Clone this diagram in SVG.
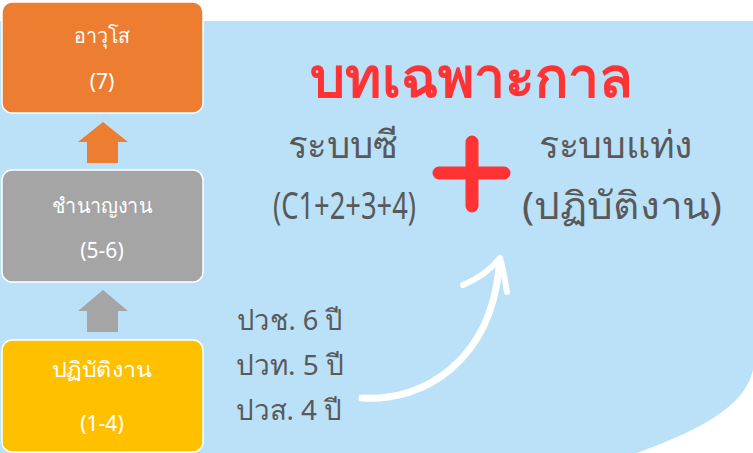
<svg xmlns="http://www.w3.org/2000/svg" width="753" height="453" viewBox="0 0 753 453">
<style>
.box{stroke:#ffffff;stroke-width:1.5}
.bt{font-family:"Noto Sans","DejaVu Sans",sans-serif;font-size:21px;fill:#ffffff;text-anchor:middle}
.gt{font-family:"Noto Sans","DejaVu Sans",sans-serif;fill:#595959}
</style>
<rect width="753" height="453" fill="#ffffff"/>
<path d="M0,21 H753 V370 C745,405 705,428 637,453 H0 Z" fill="#BBE1F8"/>
<g id="node-senior">
<rect class="box" x="2" y="2" width="201" height="111" rx="10" fill="#ED7D31"/>
<text class="bt" x="102" y="43" textLength="57" lengthAdjust="spacingAndGlyphs">อาวุโส</text>
<text class="bt" x="102" y="89">(7)</text>
</g>
<g id="node-expert">
<rect class="box" x="2" y="170" width="201" height="112" rx="10" fill="#A5A5A5"/>
<text class="bt" x="102" y="213" textLength="100" lengthAdjust="spacingAndGlyphs">ชำนาญงาน</text>
<text class="bt" x="102" y="258">(5-6)</text>
</g>
<g id="node-operator">
<rect class="box" x="2" y="340" width="201" height="112" rx="10" fill="#FFC000"/>
<text class="bt" x="102" y="377" textLength="100" lengthAdjust="spacingAndGlyphs">ปฏิบัติงาน</text>
<text class="bt" x="102" y="431">(1-4)</text>
</g>
<g id="connectors">
<path d="M103,122 L128,142 H118 V163 H87 V142 H78 Z" fill="#ED7D31"/>
<path d="M103,290 L128,311 H118 V332 H87 V311 H78 Z" fill="#A5A5A5"/>
<path d="M362,398 C425,402 490,360 499,268" fill="none" stroke="#ffffff" stroke-width="7" stroke-linecap="round"/>
<path d="M463,285 C480,278 492,268 500,258 M500,258 C503,268 505,280 507,292" fill="none" stroke="#ffffff" stroke-width="6" stroke-linecap="round"/>
</g>
<g id="title">
<text x="310" y="97" font-family="Noto Sans,sans-serif" font-weight="bold" font-size="56" fill="#FF3333" textLength="322" lengthAdjust="spacingAndGlyphs">บทเฉพาะกาล</text>
</g>
<g id="node-csystem">
<text class="gt" x="288" y="158" font-size="38" textLength="110" lengthAdjust="spacingAndGlyphs">ระบบซี</text>
<text class="gt" x="273" y="219" font-size="38" textLength="143" lengthAdjust="spacingAndGlyphs">(C1+2+3+4)</text>
</g>
<path d="M439,173 H504 M472,142 V206" stroke="#FF3333" stroke-width="13" stroke-linecap="round"/>
<g id="node-rank">
<text class="gt" x="539" y="158" font-size="38" textLength="154" lengthAdjust="spacingAndGlyphs">ระบบแท่ง</text>
<text class="gt" x="522" y="219" font-size="38" textLength="200" lengthAdjust="spacingAndGlyphs">(ปฏิบัติงาน)</text>
</g>
<g id="node-vocational">
<text class="gt" x="237" y="330" font-size="28" textLength="106" lengthAdjust="spacingAndGlyphs">ปวช. 6 ปี</text>
<text class="gt" x="236" y="375" font-size="28" textLength="108" lengthAdjust="spacingAndGlyphs">ปวท. 5 ปี</text>
<text class="gt" x="236" y="420" font-size="28" textLength="106" lengthAdjust="spacingAndGlyphs">ปวส. 4 ปี</text>
</g>
</svg>
